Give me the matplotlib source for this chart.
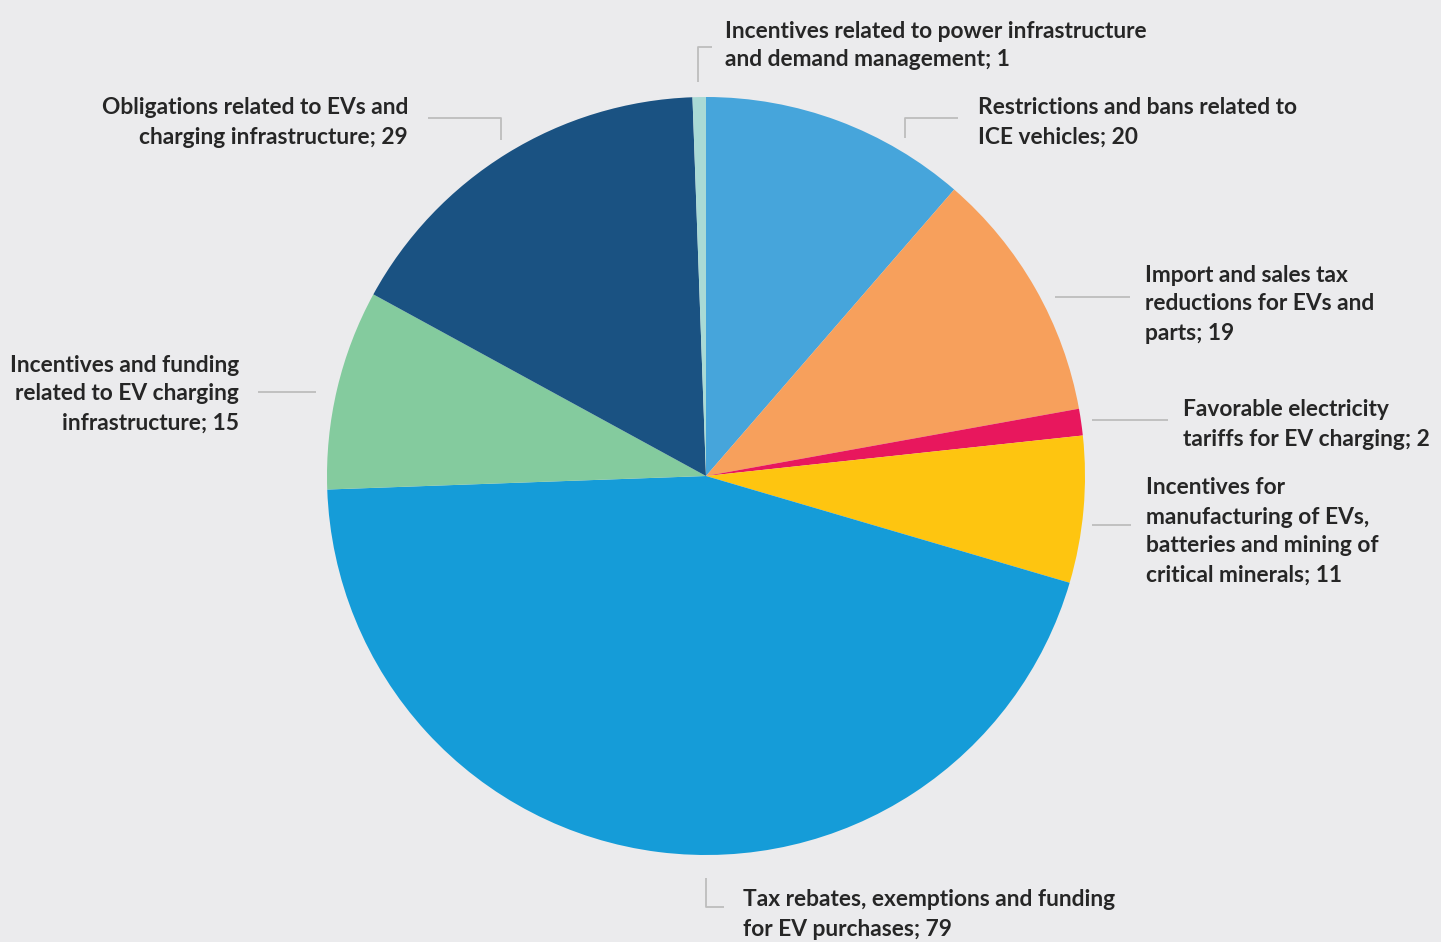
import matplotlib
matplotlib.use("Agg")
import matplotlib.pyplot as plt

# Policy measure counts
categories = [
    "Restrictions and bans related to\nICE vehicles",
    "Import and sales tax\nreductions for EVs and\nparts",
    "Favorable electricity\ntariffs for EV charging",
    "Incentives for\nmanufacturing of EVs,\nbatteries and mining of\ncritical minerals",
    "Tax rebates, exemptions and funding\nfor EV purchases",
    "Incentives and funding\nrelated to EV charging\ninfrastructure",
    "Obligations related to EVs and\ncharging infrastructure",
    "Incentives related to power infrastructure\nand demand management",
]
values = [20, 19, 2, 11, 79, 15, 29, 1]
colors = ["#46A5DB", "#F7A05C", "#E8175D", "#FEC510", "#159CD8",
          "#84CB9E", "#1A5282", "#A9DAD5"]

W, H = 1441, 942
BG = "#EBEBED"
TXT = "#262626"
LINE = "#BDBDBD"

fig = plt.figure(figsize=(W / 100, H / 100), dpi=100, facecolor=BG)
ax = fig.add_axes([0, 0, 1, 1])
ax.set_xlim(0, W)
ax.set_ylim(0, H)
ax.set_aspect("equal")
ax.axis("off")
ax.set_facecolor(BG)


def Y(y):
    return H - y


cx, cy, r = 706, 476, 379
ax.pie(values, colors=colors, startangle=90, counterclock=False,
       center=(cx, Y(cy)), radius=r, wedgeprops=dict(linewidth=0))
ax.set_xlim(0, W)
ax.set_ylim(0, H)

# label layout: (x, first line y, alignment)
label_pos = [
    (978, 106, "left"),
    (1145, 273, "left"),
    (1183, 408, "left"),
    (1146, 486, "left"),
    (743, 898, "left"),
    (239, 363, "right"),
    (408, 106, "right"),
    (725, 29, "left"),
]
for name, v, (x, y, ha) in zip(categories, values, label_pos):
    lines = f"{name}; {v}".split("\n")
    for i, ln in enumerate(lines):
        ax.text(x, Y(y + 2 + 29 * i), ln, ha=ha, va="center",
                fontsize=16.4, fontweight="bold", family="Lato", color=TXT)

# leader lines
leaders = [
    [(905, 138), (905, 118), (958, 118)],
    [(1055, 297), (1130, 297)],
    [(1092, 420), (1168, 420)],
    [(1092, 525), (1131, 525)],
    [(706, 878), (706, 907), (724, 907)],
    [(316, 392), (258, 392)],
    [(501, 140), (501, 118), (428, 118)],
    [(698, 82), (698, 47), (712, 47)],
]
for pts in leaders:
    xs = [p[0] for p in pts]
    ys = [Y(p[1]) for p in pts]
    ax.plot(xs, ys, color=LINE, lw=1.3, solid_capstyle="butt")

fig.savefig("out.png", dpi=100, facecolor=BG)
